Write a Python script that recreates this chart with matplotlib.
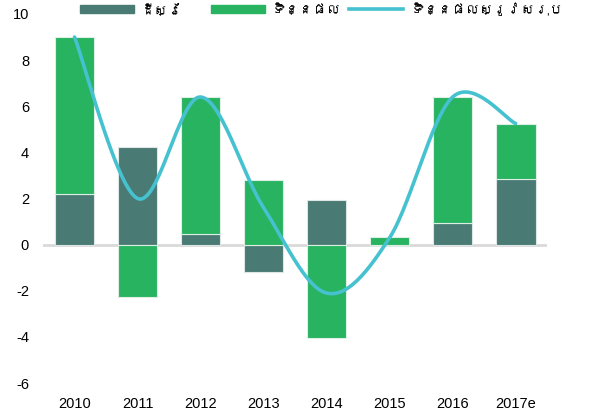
# rice production growth decomposition: land vs yield, stacked bars + smoothed total line

import numpy as np
import matplotlib.pyplot as plt
from matplotlib import font_manager
from matplotlib.ft2font import FT2Font
from matplotlib.lines import Line2D
from matplotlib.patches import Patch

years = ['2010', '2011', '2012', '2013', '2014', '2015', '2016', '2017e']
land = [2.2, 4.25, 0.45, -1.2, 1.95, -0.05, 0.95, 2.85]
yield_ = [6.8, -2.25, 5.95, 2.8, -4.05, 0.35, 5.45, 2.4]
total = [9.0, 2.0, 6.4, 1.6, -2.1, 0.3, 6.4, 5.25]
labels = ['ដីស្រែ', 'ទិន្នផល', 'ទិន្នផលស្រូវសរុប']

c_land = '#497B74'
c_yield = '#27B35F'
c_line = '#45C1CF'

# look for any installed family that carries Khmer glyphs
khmer_fams = []
for f in font_manager.fontManager.ttflist:
    try:
        if 0x178A in FT2Font(f.fname).get_charmap() and f.name not in khmer_fams:
            khmer_fams.append(f.name)
    except Exception:
        pass

plt.rcParams['font.family'] = ['Liberation Sans'] + khmer_fams + ['DejaVu Sans']
plt.rcParams['axes.unicode_minus'] = False


def smooth(x, y, steps=30):
    # Catmull-Rom style smoothing like a spreadsheet "smoothed line"
    x = np.asarray(x, float)
    y = np.asarray(y, float)
    px = np.concatenate([[x[0]], x, [x[-1]]])
    py = np.concatenate([[y[0]], y, [y[-1]]])
    xs, ys = [], []
    t = np.linspace(0, 1, steps)
    for i in range(1, len(px) - 2):
        p0, p1, p2, p3 = (np.array([px[j], py[j]]) for j in range(i - 1, i + 3))
        c1 = p1 + (p2 - p0) / 6
        c2 = p2 - (p3 - p1) / 6
        pts = ((1 - t) ** 3)[:, None] * p1 + (3 * (1 - t) ** 2 * t)[:, None] * c1 \
            + (3 * (1 - t) * t ** 2)[:, None] * c2 + (t ** 3)[:, None] * p2
        xs.extend(pts[:, 0])
        ys.extend(pts[:, 1])
    return np.array(xs), np.array(ys)


fig = plt.figure(figsize=(5.89, 4.17), dpi=100)
ax = fig.add_axes([0.073, 0.0815, 0.856, 0.885])

x = np.arange(len(years))
land_a = np.array(land)
yield_a = np.array(yield_)
# stack positives up and negatives down, like a spreadsheet stacked column
yield_bottom = np.where(np.sign(yield_a) == np.sign(land_a), land_a, 0)

w = 0.63
ax.bar(x, land_a, w, color=c_land, edgecolor='#DDE6E4', linewidth=0.8, zorder=2)
ax.bar(x, yield_a, w, bottom=yield_bottom, color=c_yield, edgecolor='#DDEFE4',
       linewidth=0.8, zorder=2)
ax.axhline(0, color='#D9D9D9', linewidth=2, zorder=1)

sx, sy = smooth(x, total)
ax.plot(sx, sy, color=c_line, linewidth=2.6, solid_capstyle='round', zorder=3)

ax.set_xlim(-0.5, len(years) - 0.5)
ax.set_ylim(-6, 10)
ax.set_yticks(range(-6, 11, 2))
ax.set_xticks(x)
ax.set_xticklabels(years)
ax.tick_params(axis='both', length=0, labelsize=10.5, colors='black')
ax.tick_params(axis='y', pad=10)
ax.tick_params(axis='x', pad=10)
for s in ax.spines.values():
    s.set_visible(False)

# one legend entry per box so each handle sits where the reference has it
handles = [Patch(color=c_land), Patch(color=c_yield),
           Line2D([], [], color=c_line, linewidth=2.6)]
for h, lab, hx in zip(handles, labels, [0.136, 0.358, 0.593]):
    leg = fig.legend([h], [lab], loc='center left', bbox_to_anchor=(hx, 0.976),
                     frameon=False, fontsize=10, handlelength=3.9, handleheight=0.55,
                     handletextpad=0.5, borderpad=0, borderaxespad=0)

plt.savefig('out.png', dpi=100)
